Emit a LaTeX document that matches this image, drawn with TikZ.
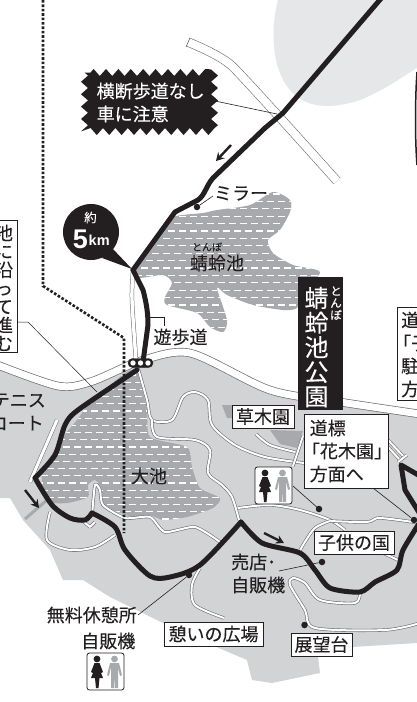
\documentclass[tikz,border=0pt]{standalone}
\usepackage{fontspec}
\setmainfont{Noto Sans CJK JP}[FakeBold=0.2]
\newfontfamily\latinbold{Liberation Sans}[BoldFont={Liberation Sans Bold}]
\usetikzlibrary{decorations.pathmorphing,arrows.meta}
\definecolor{ink}{HTML}{231F20}
\definecolor{parkgray}{HTML}{D1D3D4}
\definecolor{pondgray}{HTML}{A7A9AC}
\definecolor{blobgray}{HTML}{E6E7E8}
\definecolor{linegray}{HTML}{6D6E71}
\tikzset{
  txt/.style={inner sep=0pt,text=ink,text height=15.84pt,text depth=2.16pt,font=\fontsize{18}{18}\selectfont},
  boxed/.style={txt,fill=white,draw=ink,line width=.7pt},
  trail/.style={draw=linegray,line width=.6pt,double=white,double distance=2pt,line join=round},
  route/.style={draw=ink,line width=5pt,line join=round,line cap=round},
  leader/.style={draw=ink,line width=.6pt},
  spot/.style={circle,fill=ink,inner sep=0pt,minimum size=6.5pt},
  dirarrow/.style={draw=ink,line width=2.4pt,-{Stealth[length=8pt,width=9pt]}},
  dots/.style={draw=ink,line width=2.6pt,dash pattern=on 2.6pt off 1.8pt},
  toiletpic/.pic={
    \draw[draw=ink,fill=white,line width=.8pt,rounded corners=2.5pt] (0,0) rectangle (37,37);
    \fill[ink] (10,6) circle (3.4);
    \fill[ink] (7.5,10) -- (12.5,10) -- (16,19) -- (14,20) -- (12.5,16) -- (16,25) -- (12.5,25) -- (11.5,35) -- (9,35) -- (8,25) -- (4,25) -- (7.5,16) -- (6,20) -- (4,19) -- cycle;
    \fill[pondgray] (27.5,6) circle (3.4);
    \fill[pondgray] (23,10) -- (32,10) -- (35,22) -- (33,23) -- (31,14) -- (31,35) -- (28,35) -- (27.6,23) -- (27,35) -- (24,35) -- (24,14) -- (22,23) -- (20,22) -- cycle;
  }
}
\begin{document}
\begin{tikzpicture}[x=1pt,y=-1pt]
\useasboundingbox (0,0) rectangle (417,702);
\clip (0,0) rectangle (417,702);
\fill[white] (0,0) rectangle (417,702);
% upper grey area
\fill[blobgray] (278,0) .. controls (270,30) and (272,70) .. (290,90) .. controls (305,108) and (330,110) .. (360,100) .. controls (385,90) and (400,78) .. (417,68) -- (417,0) -- cycle;
\draw[ink,line width=1.5pt] (417,72) .. controls (415,100) and (415,140) .. (417,165);
% park
\fill[parkgray] (0,366) -- (58,386) .. controls (75,387) and (105,378) .. (125,366) -- (140,360) .. controls (160,354) and (178,350) .. (190,353) -- (270,390) -- (340,402) -- (417,413) -- (417,643) -- (352,647) -- (318,657) -- (320,673) -- (272,683) -- (252,680) -- (247,660) -- (207,643) -- (163,623) -- (110,597) -- (83,580) -- (63,580) -- (50,550) -- (23,520) -- (10,498) -- (0,498) -- cycle;
% road along the park
\draw[linegray,line width=8.4pt,line join=round] plot[smooth,tension=.5] coordinates {(-5,364) (58,386) (90,382) (125,367) (140,361) (190,353) (270,390) (340,402) (420,414)};
\draw[white,line width=7pt,line join=round] plot[smooth,tension=.5] coordinates {(-5,364) (58,386) (90,382) (125,367) (140,361) (190,353) (270,390) (340,402) (420,414)};
% upper pond
\begin{scope}
\path[clip] plot[smooth cycle,tension=.45] coordinates {(133,268) (160,233) (173,217) (203,213) (217,210) (250,205) (273,192) (290,200) (290,212) (280,230) (268,240) (273,253) (293,265) (320,272) (302,293) (297,308) (283,310) (253,305) (227,295) (217,288) (227,320) (223,332) (210,327) (197,313) (167,305) (165,297) (172,283) (163,275) (137,278)};
\fill[pondgray] (120,180) rectangle (330,340);
\foreach \r in {0,...,21}{
  \pgfmathsetmacro{\yy}{194+7.4*\r}
  \pgfmathsetmacro{\xx}{mod(\r,2)*5}
  \draw[white,line width=1.2pt,dash pattern=on 7pt off 4pt] (130+\xx,\yy) -- (330,\yy);
}
\end{scope}
% lower pond
\begin{scope}
\path[clip] plot[smooth cycle,tension=.4] coordinates {(125,373) (137,372) (147,410) (150,437) (187,447) (192,467) (200,488) (220,498) (213,508) (187,517) (163,520) (150,515) (133,517) (113,510) (103,502) (100,487) (95,480) (88,485) (88,497) (67,503) (50,502) (43,490) (43,470) (63,437) (77,420) (90,403)};
\fill[pondgray] (30,365) rectangle (230,530);
\foreach \r in {0,...,21}{
  \pgfmathsetmacro{\yy}{375+7.2*\r}
  \pgfmathsetmacro{\xx}{mod(\r,2)*6}
  \draw[white,line width=1.2pt,dash pattern=on 7pt off 4pt] (30+\xx,\yy) -- (230,\yy);
}
\end{scope}
% darker patches
\fill[pondgray] (222,405) -- (232,405) -- (232,418) -- (227,418) -- cycle;
\fill[pondgray] (270,430) -- (303,431) -- (297,448) -- (280,444) -- cycle;
\draw[pondgray,line width=3pt] (25,519) -- (47,500);
% thin double road at the top
\draw[linegray,line width=.6pt,double=white,double distance=8pt,line join=round] plot[smooth,tension=.3] coordinates {(188,42) (232,66) (337,181)};
\draw[linegray,line width=.6pt] (190,38) -- (186,47);
% path beside the road
\draw[linegray,line width=.5pt,double=white,double distance=3.4pt] plot[smooth,tension=.5] coordinates {(133,272) (132,300) (136,360)};
% trails
\draw[trail] plot[smooth,tension=.5] coordinates {(138,368) (147,400) (152,420) (172,420) (183,397) (195,392) (208,400) (212,425) (235,445) (265,457) (304,463)};
\draw[trail] plot[smooth,tension=.5] coordinates {(152,420) (157,437) (195,440) (210,450) (208,473) (222,485) (232,497) (239,520)};
\draw[trail] plot[smooth,tension=.5] coordinates {(238,508) (270,505) (300,510) (330,520) (345,530)};
\draw[trail] plot[smooth,tension=.5] coordinates {(330,521) (367,522) (380,518) (420,523)};
\draw[trail] plot[smooth,tension=.5] coordinates {(330,521) (315,528) (303,545) (298,555)};
\draw[trail] plot[smooth,tension=.5] coordinates {(360,592) (355,603) (320,600) (305,583) (293,578) (290,585) (305,610) (315,628) (385,630) (420,623)};
\draw[trail] plot[smooth,tension=.5] coordinates {(200,568) (192,585) (195,605) (224,618)};
\draw[trail] plot[smooth,tension=.5] coordinates {(50,512) (47,540) (70,550) (95,547) (115,535)};
\draw[trail] plot[smooth,tension=.4] coordinates {(92,516) (95,485) (100,490) (103,505) (125,518) (150,517) (165,532) (195,527) (220,542)};
\draw[trail] (84,522) -- (90,527) -- (95,522);
\draw[trail] plot[smooth,tension=.5] coordinates {(256,434) (270,445) (295,452)};
\draw[trail] (293,466) -- (303,436);
\draw[trail] (383,553) -- (398,560);
\draw[trail] (388,440) -- (405,458);
\draw[trail] (388,447) -- (400,460);
\draw[trail] (398,462) -- (407,455);
\draw[linegray,line width=.5pt,double=white,double distance=3pt] (57,420) -- (30,482);
% dotted route
\draw[dots] (43,0) -- (43,286) -- (124,338) -- (124,533);
% main route
\draw[route] (384,-5) -- (283,113) -- (265,128) -- (213,178) .. controls (206,186) and (205,195) .. (198,200) -- (175,212) -- (133,270);
\draw[route] (133,270) -- (143,290) .. controls (147,305) and (148,315) .. (148,325) -- (143,362);
\draw[route] plot[smooth,tension=.45] coordinates {(137,370) (78,410) (65,425) (55,455) (35,478)};
\draw[route] plot[smooth,tension=.5] coordinates {(35,478) (52,505) (70,518) (85,520) (92,513)};
\draw[route] plot[smooth,tension=.5] coordinates {(92,513) (115,527) (125,550) (150,576) (170,577) (200,565) (241,522)};
\draw[route] plot[smooth,tension=.45] coordinates {(241,522) (262,543) (300,553) (315,570) (330,588) (360,592) (375,582) (397,570) (403,550) (420,522)};
\draw[route] (420,514) -- (405,490) -- (401,465) -- (420,476);
% crossing signal
\draw[ink,fill=ink,rounded corners=4.5pt] (128,358.5) rectangle (153,367.5);
\foreach \cx in {133,140.5,148}{\fill[white] (\cx,363) circle (2.7);}
% arrows
\draw[dirarrow] (231,145) -- (216,161);
\draw[dirarrow] (25,490) -- (39,508);
\draw[dirarrow] (264,533) -- (284,543);
% warning callout
\coordinate (warnend) at (277,114);
\coordinate (warnstart) at (215,101);
\draw[leader] (warnstart) -- (warnend);
\fill[ink,decorate,decoration={zigzag,segment length=12.4pt,amplitude=3.5pt}] (84.5,72.5) rectangle (214.5,131.5);
\node[txt,anchor=west,text=white] (warn1) at (96.5,91) {横断歩道なし};
\node[txt,anchor=west,text=white] (warn2) at (96.5,114) {車に注意};
% distance bubble
\coordinate (bubbletip) at (132,269);
\fill[ink] (91,232) circle (28);
\fill[ink] (112,248) -- (bubbletip) -- (102,258) -- cycle;
\node[txt,text=white,text height=11pt,text depth=1.5pt,font=\fontsize{12.5}{12.5}\selectfont] (yaku) at (90.5,217.5) {約};
\node[inner sep=0pt,text=white,anchor=base east,font=\latinbold\bfseries\fontsize{27}{27}\selectfont] (five) at (88,248) {5};
\node[inner sep=0pt,text=white,anchor=base west,font=\latinbold\bfseries\fontsize{14.5}{14.5}\selectfont] (km) at (88.5,245.5) {km};
% mirror
\node[spot] (mirrordot) at (197,207) {};
\node[txt] (mirror) at (241,193) {ミラー};
\draw[leader] (mirrordot) -- (213,196);
% pond labels
\node[txt,text height=8.8pt,text depth=1.2pt,font=\fontsize{10}{10}\selectfont] (pondruby) at (207,247) {とんぼ};
\node[txt] (pond1) at (217,263) {蜻蛉池};
\node[txt] (pond2) at (149,476) {大池};
% walkway
\coordinate (walkstart) at (150,317);
\node[txt] (walk) at (180.5,337) {遊歩道};
\draw[leader,line width=.5pt] (walkstart) -- (164,317) -- (164,326);
% title
\node[fill=ink,minimum width=45pt,minimum height=133pt,inner sep=0pt] (titlebox) at (320.5,343.5) {};
\foreach \ch [count=\i from 0] in {蜻,蛉,池,公,園}{
  \node[txt,text=white,text height=21.12pt,text depth=2.88pt,font=\fontsize{24}{24}\selectfont] (title\i) at (316.5,298+24.6*\i) {\ch};
}
\foreach \ch [count=\i from 0] in {と,ん,ぼ}{
  \node[txt,text=white,text height=10.1pt,text depth=1.4pt,font=\fontsize{11.5}{11.5}\selectfont] (ruby\i) at (336,291+12*\i) {\ch};
}
% left cut-off box
\coordinate (leftleader) at (97,392);
\draw[leader,line width=.5pt] (leftleader) -- (28,322) -- (17,322);
\draw[draw=ink,fill=white,line width=.7pt] (-5,220) rectangle (17,352);
\foreach \ch [count=\i from 0] in {池,に,沿,っ,て,進,む}{
  \node[txt] (lefttxt\i) at (4,233+18.4*\i) {\ch};
}
% tennis
\node[txt,anchor=east] (tennis1) at (46,400) {テニス};
\node[txt,anchor=east] (tennis2) at (44,423) {コート};
% right cut-off box
\draw[draw=ink,fill=white,line width=.7pt] (397,307) rectangle (425,400);
\node[txt,anchor=west] (right1) at (401,320) {道標};
\node[txt,anchor=west] (right2) at (393,343) {「子供の国」};
\node[txt,anchor=west] (right3) at (401,366) {駐車場};
\node[txt,anchor=west] (right4) at (401,389) {方面へ};
% labelled boxes
\node[boxed,minimum width=62pt,minimum height=23pt] (kusaki) at (263,416.5) {草木園};
\node[draw=ink,fill=white,line width=.7pt,minimum width=84pt,minimum height=74pt,inner sep=0pt] (signbox) at (346,451) {};
\node[txt,anchor=west] (sign1) at (309.5,428) {道標};
\node[txt] (sign2) at (347,451) {「花木園」};
\node[txt,anchor=west] (sign3) at (309.5,474) {方面へ};
\node[spot] (signdot) at (414,520) {};
\draw[leader] (373,488) -- (signdot);
\node[boxed,minimum width=80pt,minimum height=23pt] (kodomo) at (354,542.5) {子供の国};
\node[spot] (shopdot) at (322,562) {};
\draw[leader] (shopdot) -- (279,571);
\node[txt,anchor=west] (shop1) at (231,562) {売店･};
\node[txt,anchor=west] (shop2) at (231,585) {自販機};
\node[spot] (restdot) at (189,575) {};
\draw[leader] (restdot) -- (138,615);
\node[txt,anchor=east] (rest1) at (137,615) {無料休憩所};
\node[txt,anchor=east] (rest2) at (135.5,641) {自販機};
\node[boxed,minimum width=99pt,minimum height=24pt] (hiroba) at (213.5,634) {憩いの広場};
\node[spot] (tenbodot) at (304.5,625) {};
\node[boxed,minimum width=61pt,minimum height=23pt] (tenbo) at (321.5,644.5) {展望台};
% toilets
\coordinate (wcdot1) at (319,509);
\draw[leader] (293,486) -- (wcdot1);
\node[spot] (wcspot) at (wcdot1) {};
\pic at (255,467) {toiletpic};
\pic at (87,653) {toiletpic};
\end{tikzpicture}
\end{document}
